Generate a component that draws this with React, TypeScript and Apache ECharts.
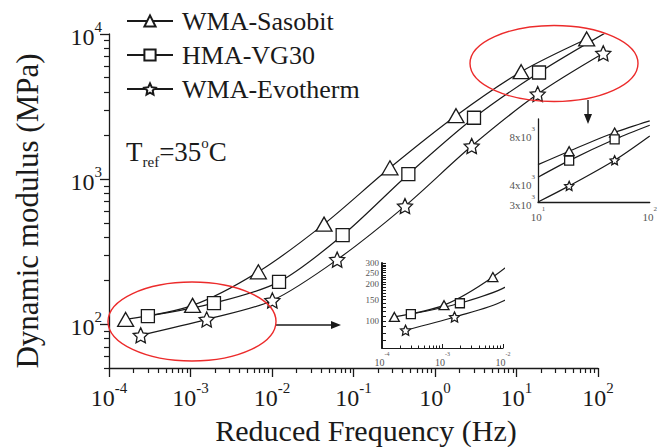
import React, { useEffect, useRef } from "react";
import * as echarts from "echarts";

const FONT = "'Liberation Serif', 'Times New Roman', Times, serif";
const INK = "#1a1a1a";
const GREY = "#555";

// ---------- data ----------
const seriesNames = ["WMA-Sasobit", "HMA-VG30", "WMA-Evotherm"];

const sasobitFreq = [1.6e-4, 1.06e-3, 6.8e-3, 0.0435, 0.28, 1.81, 11.4, 72.6];
const sasobitModulus = [108, 135, 230, 490, 1197, 2735, 5500, 9240];
const vg30Freq = [3.0e-4, 1.94e-3, 0.0122, 0.0736, 0.471, 3.01, 18.9, 120];
const vg30Modulus = [114, 140, 196, 411, 1082, 2648, 5430, 10100];
const evothermFreq = [2.45e-4, 1.58e-3, 0.0101, 0.063, 0.428, 2.82, 18.2, 116];
const evothermModulus = [84, 108, 146, 279, 652, 1690, 3855, 7360];

const yTickExponents = [2, 3, 4];

// lower inset (low-frequency zoom)
const lowInsetYLabels = [100, 150, 200, 250, 300];
const lowInsetXExponents = [-4, -3, -2];

// upper inset (high-frequency zoom)
const highInsetFreq = [10, 19, 48.5, 100];
const highInsetSasobit = [5160, 6270, 8220, 9730];
const highInsetVG30 = [4300, 5470, 7450, 9140];
const highInsetEvotherm = [3000, 3790, 5500, 7820];
const highInsetMarked = [false, true, true, false];
const highInsetYLabels = [3000, 4000, 8000];

// ---------- helpers ----------
const lg = Math.log10;
const EPS = 1e-9;
const STAR =
  "path://M0,-10L2.9,-3.9L9.5,-3.1L4.6,1.5L5.9,8.1L0,4.9L-5.9,8.1L-4.6,1.5L-9.5,-3.1L-2.9,-3.9Z";

function minorLogTicks(fromExp: number, toExp: number, lo: number, hi: number) {
  const out: number[] = [];
  for (let d = fromExp; d <= toExp; d++) {
    for (let m = 2; m <= 9; m++) {
      const v = lg(m * Math.pow(10, d));
      if (v >= lg(lo) - EPS && v <= lg(hi) + EPS) out.push(v);
    }
  }
  return out;
}

const supRich = (base: number, sup: number, color = INK) => ({
  b: { fontSize: base, fontFamily: FONT, color, lineHeight: base + 6, verticalAlign: "bottom" },
  s: { fontSize: sup, fontFamily: FONT, color, lineHeight: sup, verticalAlign: "top" },
});

const symStyle = { color: "#fff", borderColor: INK, borderWidth: 1.3 };

function lineSeries(
  name: string,
  fx: number[],
  fy: number[],
  symbol: string,
  size: number | number[],
  xi: number,
  yi: number,
  marked?: boolean[]
) {
  return {
    type: "line",
    name,
    xAxisIndex: xi,
    yAxisIndex: yi,
    data: fx.map((f, i) => {
      const value = [lg(f), lg(fy[i])];
      return marked ? { value, symbol: marked[i] ? symbol : "none" } : value;
    }),
    symbol,
    symbolSize: size,
    smooth: 0.3,
    clip: true,
    lineStyle: { color: INK, width: 1.2 },
    itemStyle: symStyle,
    emphasis: { disabled: true },
    z: 3,
  };
}

const noLine = { show: false, onZero: false };
const keepEnds = { showMinLabel: true, showMaxLabel: true, hideOverlap: false };

// ---------- layout ----------
const MAIN = { left: 109, top: 34, width: 489, height: 334 };
const MAIN_X_MIN = -4;
const MAIN_X_MAX = 2;
const DATA_X_MAX = 2.6;
const MAIN_Y_MIN = 50;
const MAIN_Y_MAX = 10000;
const LOW = { left: 382, top: 263, width: 121, height: 85 };
const HIGH = { left: 538, top: 119, width: 122, height: 83 };

export default function App() {
  const ref = useRef<HTMLDivElement>(null);

  useEffect(() => {
    if (!ref.current) return;
    const chart = echarts.init(ref.current, undefined, { renderer: "svg" });

    const mainMinorX = minorLogTicks(-4, 1, 1e-4, 100);
    const mainMinorY = minorLogTicks(1, 3, MAIN_Y_MIN, MAIN_Y_MAX);
    const lowMinorX = minorLogTicks(-4, -3, 1e-4, 1e-2);
    const lowTicksY: number[] = [];
    for (let v = 60; v <= 300; v += 10) lowTicksY.push(lg(v));

    const dataW = (MAIN.width * (DATA_X_MAX - MAIN_X_MIN)) / (MAIN_X_MAX - MAIN_X_MIN);

    const option: any = {
      animation: false,
      backgroundColor: "#fff",
      textStyle: { fontFamily: FONT },
      legend: {
        data: seriesNames,
        orient: "vertical",
        left: 121,
        top: 1,
        itemWidth: 46,
        itemHeight: 14,
        itemGap: 4,
        selectedMode: false,
        textStyle: { fontSize: 26, fontFamily: FONT, color: INK, lineHeight: 30, padding: [0, 0, 0, 4] },
      },
      grid: [
        { ...MAIN },
        { left: MAIN.left, top: MAIN.top, width: dataW, height: MAIN.height },
        { ...LOW },
        { ...HIGH },
      ],
      xAxis: [
        {
          gridIndex: 0,
          type: "value",
          position: "bottom",
          min: MAIN_X_MIN,
          max: MAIN_X_MAX,
          interval: 1,
          splitLine: { show: false },
          axisLine: { onZero: false, lineStyle: { color: INK, width: 1.3 } },
          axisTick: { length: 9, lineStyle: { color: INK, width: 1.3 } },
          axisLabel: {
            ...keepEnds,
            margin: 12,
            formatter: (v: number) => `{b|10}{s|${Math.round(v)}}`,
            rich: supRich(24, 15),
          },
        },
        {
          gridIndex: 0,
          type: "value",
          position: "bottom",
          min: MAIN_X_MIN,
          max: MAIN_X_MAX,
          splitLine: { show: false },
          axisLine: noLine,
          axisLabel: { show: false },
          axisTick: { length: 5, customValues: mainMinorX, lineStyle: { color: INK, width: 1.2 } },
        },
        { gridIndex: 1, type: "value", min: MAIN_X_MIN, max: DATA_X_MAX, show: false, axisLine: noLine },
        {
          gridIndex: 2,
          type: "value",
          position: "bottom",
          min: -4,
          max: -2,
          interval: 1,
          splitLine: { show: false },
          axisLine: { onZero: false, lineStyle: { color: INK, width: 1.2 } },
          axisTick: { inside: true, length: 4, lineStyle: { color: INK, width: 1 } },
          axisLabel: {
            ...keepEnds,
            margin: 3,
            customValues: lowInsetXExponents,
            formatter: (v: number) => `{b|10}{s|${Math.round(v)}}`,
            rich: supRich(10, 6, GREY),
          },
        },
        {
          gridIndex: 2,
          type: "value",
          position: "bottom",
          min: -4,
          max: -2,
          splitLine: { show: false },
          axisLine: noLine,
          axisLabel: { show: false },
          axisTick: { inside: true, length: 2.5, customValues: lowMinorX, lineStyle: { color: INK, width: 1 } },
        },
        {
          gridIndex: 3,
          type: "value",
          position: "bottom",
          min: 1,
          max: 2,
          interval: 1,
          splitLine: { show: false },
          axisLine: { onZero: false, lineStyle: { color: INK, width: 1.3 } },
          axisTick: { show: false },
          axisLabel: {
            ...keepEnds,
            margin: 3,
            formatter: (v: number) => `{b|10}{s|${Math.round(v)}}`,
            rich: supRich(11, 7, GREY),
          },
        },
      ],
      yAxis: [
        {
          gridIndex: 0,
          type: "value",
          position: "left",
          min: lg(MAIN_Y_MIN),
          max: lg(MAIN_Y_MAX) + EPS,
          splitLine: { show: false },
          axisLine: { show: true, onZero: false, lineStyle: { color: INK, width: 1.3 } },
          axisTick: { show: true, length: 9, customValues: yTickExponents, lineStyle: { color: INK, width: 1.3 } },
          axisLabel: {
            ...keepEnds,
            margin: 7,
            customValues: yTickExponents,
            formatter: (v: number) => `{b|10}{s|${Math.round(v)}}`,
            rich: supRich(24, 15),
          },
        },
        {
          gridIndex: 0,
          type: "value",
          position: "left",
          min: lg(MAIN_Y_MIN),
          max: lg(MAIN_Y_MAX) + EPS,
          splitLine: { show: false },
          axisLine: noLine,
          axisLabel: { show: false },
          axisTick: { show: true, length: 5, customValues: mainMinorY, lineStyle: { color: INK, width: 1.2 } },
        },
        { gridIndex: 1, type: "value", min: lg(MAIN_Y_MIN), max: lg(MAIN_Y_MAX) + EPS, show: false, axisLine: noLine },
        {
          gridIndex: 2,
          type: "value",
          position: "left",
          min: lg(60) - EPS,
          max: lg(300) + EPS,
          splitLine: { show: false },
          axisLine: { show: true, onZero: false, lineStyle: { color: INK, width: 2 } },
          axisTick: { show: true, inside: true, length: 4, customValues: lowTicksY, lineStyle: { color: INK, width: 1 } },
          axisLabel: {
            ...keepEnds,
            margin: 3,
            customValues: lowInsetYLabels.map(lg),
            formatter: (v: number) => `${Math.round(Math.pow(10, v))}`,
            fontSize: 9,
            lineHeight: 8,
            fontFamily: FONT,
            color: GREY,
          },
        },
        {
          gridIndex: 3,
          type: "value",
          position: "left",
          min: lg(3000) - EPS,
          max: lg(10000) + EPS,
          splitLine: { show: false },
          axisLine: { show: true, onZero: false, lineStyle: { color: INK, width: 1.3 } },
          axisTick: { show: false },
          axisLabel: {
            ...keepEnds,
            margin: 3,
            customValues: highInsetYLabels.map(lg),
            formatter: (v: number) => `{b|${Math.round(Math.pow(10, v) / 1000)}x10}{s|3}`,
            rich: supRich(11, 7, GREY),
          },
        },
      ],
      series: [
        lineSeries(seriesNames[0], sasobitFreq, sasobitModulus, "triangle", [16, 14], 2, 2),
        lineSeries(seriesNames[1], vg30Freq, vg30Modulus, "rect", 13, 2, 2),
        lineSeries(seriesNames[2], evothermFreq, evothermModulus, STAR, 15, 2, 2),
        lineSeries("low " + seriesNames[0], sasobitFreq, sasobitModulus, "triangle", [10, 9], 3, 3),
        lineSeries("low " + seriesNames[1], vg30Freq, vg30Modulus, "rect", 9, 3, 3),
        lineSeries("low " + seriesNames[2], evothermFreq, evothermModulus, STAR, 10, 3, 3),
        lineSeries("high " + seriesNames[0], highInsetFreq, highInsetSasobit, "triangle", [10, 9], 5, 4, highInsetMarked),
        lineSeries("high " + seriesNames[1], highInsetFreq, highInsetVG30, "rect", 9, 5, 4, highInsetMarked),
        lineSeries("high " + seriesNames[2], highInsetFreq, highInsetEvotherm, STAR, 9, 5, 4, highInsetMarked),
      ],
      graphic: [
        {
          type: "text",
          x: 27,
          y: 211,
          rotation: Math.PI / 2,
          silent: true,
          style: {
            text: "Dynamic modulus (MPa)",
            fontSize: 31,
            fontFamily: FONT,
            fill: INK,
            align: "center",
            verticalAlign: "middle",
          },
        },
        {
          type: "text",
          x: 366,
          y: 430,
          silent: true,
          style: {
            text: "Reduced Frequency (Hz)",
            fontSize: 30,
            fontFamily: FONT,
            fill: INK,
            align: "center",
            verticalAlign: "middle",
          },
        },
        {
          type: "text",
          x: 126,
          y: 135,
          silent: true,
          style: {
            text: "{a|T}{u|ref}{a|=35}{o|o}{a|C}",
            rich: {
              a: { fontSize: 27, fontFamily: FONT, fill: INK, color: INK, lineHeight: 34, verticalAlign: "middle" },
              u: { fontSize: 15, fontFamily: FONT, fill: INK, color: INK, lineHeight: 15, verticalAlign: "bottom" },
              o: { fontSize: 15, fontFamily: FONT, fill: INK, color: INK, lineHeight: 15, verticalAlign: "top" },
            },
          },
        },
        {
          type: "ellipse",
          silent: true,
          shape: { cx: 192, cy: 321.5, rx: 84, ry: 39.5 },
          style: { fill: "none", stroke: "#ec2b2b", lineWidth: 1.4 },
          z: 10,
        },
        {
          type: "ellipse",
          silent: true,
          shape: { cx: 554, cy: 63.5, rx: 84, ry: 38 },
          style: { fill: "none", stroke: "#ec2b2b", lineWidth: 1.4 },
          z: 10,
        },
        {
          type: "line",
          silent: true,
          shape: { x1: 276, y1: 325, x2: 334, y2: 325 },
          style: { stroke: INK, lineWidth: 1.4 },
        },
        {
          type: "polygon",
          silent: true,
          shape: { points: [[331, 321], [341, 325], [331, 329]] },
          style: { fill: INK },
        },
        {
          type: "line",
          silent: true,
          shape: { x1: 588, y1: 100, x2: 588, y2: 116 },
          style: { stroke: INK, lineWidth: 1.4 },
        },
        {
          type: "polygon",
          silent: true,
          shape: { points: [[584, 114], [588, 124], [592, 114]] },
          style: { fill: INK },
        },
      ],
    };

    chart.setOption(option);
    return () => chart.dispose();
  }, []);

  return (
    <div
      ref={ref}
      style={{ position: "fixed", left: 0, top: 0, width: 660, height: 447, background: "#fff" }}
    />
  );
}
